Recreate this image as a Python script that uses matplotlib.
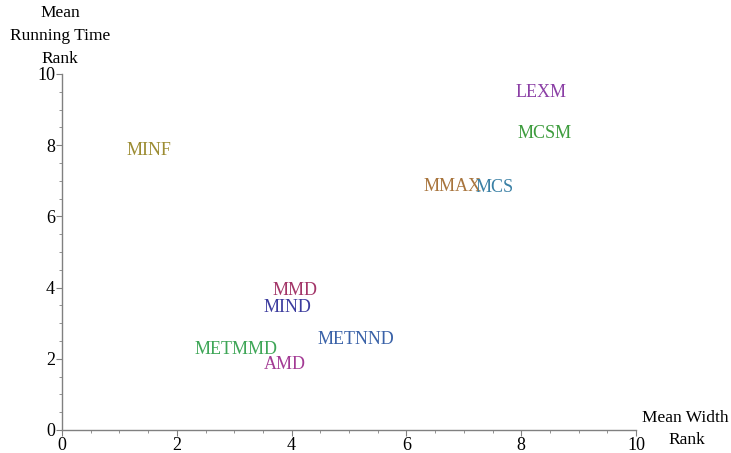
import matplotlib.pyplot as plt
from matplotlib.ticker import MultipleLocator

names = ["LEXM", "MCSM", "MMAX", "MCS", "MINF", "MMD", "MIND", "METNND", "METMMD", "AMD"]
width_rank = [8.34, 8.40, 6.81, 7.53, 1.52, 4.06, 3.92, 5.12, 3.03, 3.89]
time_rank = [9.49, 8.34, 6.83, 6.80, 7.84, 3.93, 3.43, 2.53, 2.25, 1.85]
colors = ["#8b3fa5", "#3d9c3d", "#a8743c", "#3a80a5", "#9c8c32",
          "#a33568", "#3c3c9e", "#3a62a8", "#3ea657", "#a33a94"]

plt.rcParams["font.family"] = ["Liberation Serif", "DejaVu Serif"]

fig = plt.figure(figsize=(7.31, 4.53), dpi=100)
ax = fig.add_axes([62 / 731, 23 / 453, 574 / 731, 356 / 453])
ax.set_xlim(0, 10)
ax.set_ylim(0, 10)

for n, x, y, c in zip(names, width_rank, time_rank, colors):
    ax.text(x, y, n, color=c, fontsize=13, ha="center", va="center")

for s in ["top", "right"]:
    ax.spines[s].set_visible(False)
for s in ["left", "bottom"]:
    ax.spines[s].set_color("#808080")
    ax.spines[s].set_linewidth(1.0)

ax.xaxis.set_major_locator(MultipleLocator(2))
ax.yaxis.set_major_locator(MultipleLocator(2))
ax.xaxis.set_minor_locator(MultipleLocator(0.5))
ax.yaxis.set_minor_locator(MultipleLocator(0.5))
ax.tick_params(which="major", length=4, width=0.8, color="#808080", labelsize=13, pad=1)
ax.tick_params(which="minor", length=2, width=0.6, color="#808080")

# axis labels, placed like Mathematica's AxesLabel
fig.text(60 / 731, 1 - 36 / 453, "Mean\nRunning Time\nRank", ha="center", va="center",
         fontsize=12.5, linespacing=1.55)
fig.text(685 / 731, 1 - 418 / 453, "Mean Width", ha="center", va="center", fontsize=12.5)
fig.text(687 / 731, 1 - 440 / 453, "Rank", ha="center", va="center", fontsize=12.5)

fig.savefig("out.png", dpi=100)
